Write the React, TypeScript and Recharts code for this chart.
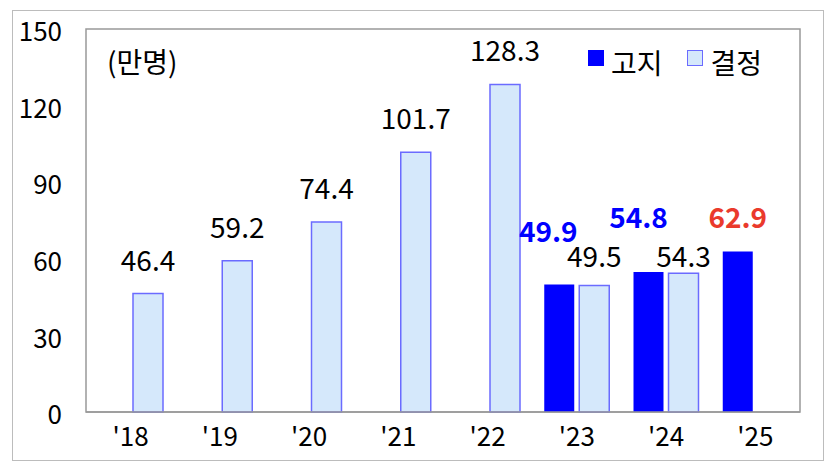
import React from "react";
import { Bar, BarChart, ReferenceArea, XAxis, YAxis } from "recharts";

const years = ["'18", "'19", "'20", "'21", "'22", "'23", "'24", "'25"];
const notice = [null, null, null, null, null, 49.9, 54.8, 62.9];
const decided = [46.4, 59.2, 74.4, 101.7, 128.3, 49.5, 54.3, null];
const yTicks = [0, 30, 60, 90, 120, 150];
const unitLabel = "(만명)";
const seriesNames = { notice: "고지", decided: "결정" };

const data = years.map((year, i) => ({
  year,
  notice: notice[i],
  decided: decided[i],
}));

const FONT = '"Noto Sans CJK KR", "Noto Sans", sans-serif';
const BLUE = "#0000ff";
const LIGHT = "#d5e8fb";
const LIGHT_STROKE = "#6b6bff";

// label nudges so the numbers don't overlap each other
const decidedLift = [35, 35, 35, 35, 35, 31, 18, 0];
const noticeLift = [0, 0, 0, 0, 0, 55, 56, 35];
const noticeShift = [0, 0, 0, 0, 0, -11, -10, 0];
const noticeColor = [BLUE, BLUE, BLUE, BLUE, BLUE, BLUE, BLUE, "#ea3a2c"];

function DecidedLabel(props) {
  const { x, y, width, value } = props;
  if (value == null) return null;
  const i = decided.indexOf(value);
  return (
    <text
      x={x + width / 2}
      y={y - decidedLift[i]}
      textAnchor="middle"
      dominantBaseline="central"
      fontSize={28}
      fontFamily={FONT}
      fill="#000"
    >
      {value.toFixed(1)}
    </text>
  );
}

function NoticeLabel(props) {
  const { x, y, width, value } = props;
  if (value == null) return null;
  const i = notice.indexOf(value);
  return (
    <text
      x={x + width / 2 + noticeShift[i]}
      y={y - noticeLift[i]}
      textAnchor="middle"
      dominantBaseline="central"
      fontSize={28}
      fontWeight="bold"
      fontFamily={FONT}
      fill={noticeColor[i]}
    >
      {value.toFixed(1)}
    </text>
  );
}

function LegendBox() {
  const box = { display: "inline-block", position: "relative", top: -4 };
  return (
    <div style={{ display: "flex", alignItems: "center", fontFamily: FONT, fontSize: 28, lineHeight: 1, color: "#000" }}>
      <span style={{ ...box, width: 16, height: 16, background: BLUE, marginRight: 7 }} />
      <span style={{ marginRight: 24 }}>{seriesNames.notice}</span>
      <span
        style={{
          ...box,
          width: 14,
          height: 14,
          background: LIGHT,
          border: `1px solid ${LIGHT_STROKE}`,
          marginRight: 8,
        }}
      />
      <span>{seriesNames.decided}</span>
    </div>
  );
}

export default function App() {
  return (
    <div style={{ position: "absolute", left: 0, top: 0, width: 840, height: 474, background: "#fff" }}>
      <div
        style={{
          position: "absolute",
          left: 12,
          top: 10,
          width: 810,
          height: 449,
          border: "1px solid #bcbcbc",
        }}
      />
      <div style={{ position: "absolute", left: 0, top: 0 }}>
        <BarChart
          width={840}
          height={474}
          data={data}
          margin={{ top: 29, right: 40, left: 0, bottom: 0 }}
          barSize={30}
          barGap={5}
        >
          <ReferenceArea y1={0} y2={150} fill="none" stroke="#999" strokeWidth={1.5} ifOverflow="visible" />
          <XAxis
            dataKey="year"
            height={62}
            axisLine={{ stroke: "#999", strokeWidth: 1.5 }}
            tickLine={false}
            tickSize={0}
            tickMargin={16}
            interval={0}
            tick={{ fill: "#000", fontSize: 26, fontFamily: FONT }}
          />
          <YAxis
            width={86}
            domain={[0, 150]}
            ticks={yTicks}
            axisLine={false}
            tickLine={false}
            tickSize={0}
            tickMargin={24}
            tick={{ fill: "#000", fontSize: 26, fontFamily: FONT, dy: 3 }}
          />
          <Bar dataKey="notice" fill={BLUE} isAnimationActive={false} label={<NoticeLabel />} />
          <Bar
            dataKey="decided"
            fill={LIGHT}
            stroke={LIGHT_STROKE}
            strokeWidth={1.5}
            isAnimationActive={false}
            label={<DecidedLabel />}
          />
        </BarChart>
      </div>
      <div
        style={{
          position: "absolute",
          left: 107,
          top: 47,
          fontFamily: FONT,
          fontSize: 28,
          lineHeight: 1,
          color: "#000",
        }}
      >
        {unitLabel}
      </div>
      <div style={{ position: "absolute", left: 588, top: 48 }}>
        <LegendBox />
      </div>
    </div>
  );
}
